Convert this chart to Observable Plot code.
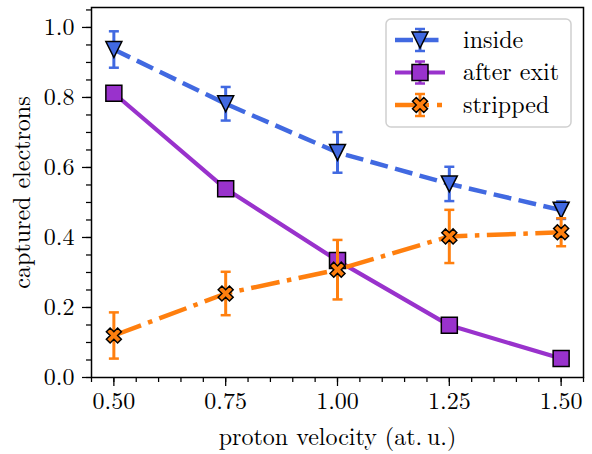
<!DOCTYPE html>
<html>
<head>
<meta charset="utf-8">
<script src="https://cdn.jsdelivr.net/npm/d3@7"></script>
<script src="https://cdn.jsdelivr.net/npm/@observablehq/plot@0.6"></script>
<style>
  html, body { margin: 0; padding: 0; background: white; }
  #chart { position: relative; width: 592px; height: 454px; }
</style>
</head>
<body>
<div id="chart"></div>
<script>
// ---- data ----
const velocity = [0.50, 0.75, 1.00, 1.25, 1.50];
const insideVals = [0.937, 0.782, 0.643, 0.553, 0.478];
const insideErr  = [0.052, 0.048, 0.058, 0.049, 0.025];
const afterVals  = [0.812, 0.539, 0.334, 0.149, 0.054];
const afterErr   = [0.005, 0.006, 0.008, 0.012, 0.005];
const strippedVals = [0.120, 0.240, 0.308, 0.403, 0.415];
const strippedErr  = [0.066, 0.062, 0.085, 0.076, 0.040];
const seriesNames = ["inside", "after exit", "stripped"];
const yTicks = [0.0, 0.2, 0.4, 0.6, 0.8, 1.0];
const xTicks = [0.50, 0.75, 1.00, 1.25, 1.50];

const FONT = "'Latin Modern Roman', 'Liberation Serif', serif";
const colors = {"inside": "#4169e1", "after exit": "#9932cc", "stripped": "#ff7f0e"};
const dashes = {"inside": "18,7.5", "after exit": null, "stripped": "29,7.5,4.5,7.5"};
const widths = {"inside": 4.5, "after exit": 4.2, "stripped": 4.5};

// custom marker symbols
const triDown = {draw(ctx, size) { const r = Math.sqrt(size / Math.PI);
  ctx.moveTo(0, r); ctx.lineTo(-r, -r); ctx.lineTo(r, -r); ctx.closePath(); }};
const square = {draw(ctx, size) { const r = Math.sqrt(size / Math.PI);
  ctx.rect(-r, -r, 2 * r, 2 * r); }};
const xFilled = {draw(ctx, size) { const r = Math.sqrt(size / Math.PI) / 2;
  const p = [[-1,-2],[0,-1],[1,-2],[2,-1],[1,0],[2,1],[1,2],[0,1],[-1,2],[-2,1],[-1,0],[-2,-1]];
  p.forEach(([a, b], i) => i ? ctx.lineTo(a * r, b * r) : ctx.moveTo(a * r, b * r)); ctx.closePath(); }};
const cap = {draw(ctx, size) { const r = Math.sqrt(size / Math.PI);
  ctx.moveTo(-r, 0); ctx.lineTo(r, 0); }};
const symbols = {"inside": triDown, "after exit": square, "stripped": xFilled};
const symR = {"inside": 8, "after exit": 8, "stripped": 7.5};

function rows(name, vals, errs) {
  return velocity.map((v, i) => ({series: name, v, y: vals[i], lo: vals[i] - errs[i], hi: vals[i] + errs[i]}));
}
const data = {
  "inside": rows("inside", insideVals, insideErr),
  "after exit": rows("after exit", afterVals, afterErr),
  "stripped": rows("stripped", strippedVals, strippedErr)
};

const marks = [];
for (const name of seriesNames) {
  const d = data[name], c = colors[name];
  marks.push(Plot.line(d, {x: "v", y: "y", stroke: c, strokeWidth: widths[name],
    strokeDasharray: dashes[name], strokeLinecap: "butt"}));
  marks.push(Plot.ruleX(d, {x: "v", y1: "lo", y2: "hi", stroke: c, strokeWidth: 3}));
  marks.push(Plot.dot(d, {x: "v", y: "lo", symbol: cap, r: 5, stroke: c, strokeWidth: 2.5}));
  marks.push(Plot.dot(d, {x: "v", y: "hi", symbol: cap, r: 5, stroke: c, strokeWidth: 2.5}));
  marks.push(Plot.dot(d, {x: "v", y: "y", symbol: symbols[name], r: symR[name], fill: c, stroke: "black", strokeWidth: 1.5}));
}

const chart = Plot.plot({
  width: 592, height: 454,
  marginLeft: 91, marginRight: 9, marginTop: 7, marginBottom: 77,
  style: {fontSize: "24px", fontFamily: FONT, color: "black", background: "white"},
  x: {domain: [0.45, 1.55]},
  y: {domain: [0, 1.057]},
  marks: [
    Plot.axisY({ticks: d3.range(0, 1.0501, 0.05), tickSize: 5, text: null, strokeWidth: 1.25, label: null}),
    Plot.axisY({ticks: yTicks, tickSize: 9, tickPadding: 8, tickFormat: d3.format(".1f"), fontSize: 24, strokeWidth: 1.25, label: null}),
    Plot.axisX({ticks: d3.range(0.45, 1.5501, 0.05), tickSize: 5, text: null, strokeWidth: 1.25, label: null}),
    Plot.axisX({ticks: xTicks, tickSize: 9, tickPadding: 5, tickFormat: d3.format(".2f"), fontSize: 24, strokeWidth: 1.25, label: null}),
    Plot.text(["captured electrons"], {frameAnchor: "left", dx: -69, rotate: -90, fontSize: 24, textAnchor: "middle", lineAnchor: "middle"}),
    Plot.text(["proton velocity (at.\u2009u.)"], {frameAnchor: "bottom", dy: 60, fontSize: 24, textAnchor: "middle", lineAnchor: "middle"}),
    ...marks,
    Plot.frame({stroke: "black", strokeWidth: 1.5})
  ]
});
document.getElementById("chart").appendChild(chart);

// ---- legend (drawn into the svg) ----
const svg = d3.select(chart);
const lg = svg.append("g").attr("font-size", 24).attr("text-anchor", "start");
lg.append("rect").attr("x", 386).attr("y", 19).attr("width", 185).attr("height", 108)
  .attr("rx", 5).attr("fill", "white").attr("fill-opacity", 0.8).attr("stroke", "#d0d0d0").attr("stroke-width", 1.5);
const legY = [40, 72.5, 105];
seriesNames.forEach((name, i) => {
  const y = legY[i], c = colors[name], cx = 420;
  lg.append("line").attr("x1", 395).attr("x2", 445).attr("y1", y).attr("y2", y)
    .attr("stroke", c).attr("stroke-width", widths[name])
    .attr("stroke-dasharray", name === "stripped" ? "34,8,5,8" : (dashes[name] || null));
  lg.append("line").attr("x1", cx).attr("x2", cx).attr("y1", y - 11).attr("y2", y + 11).attr("stroke", c).attr("stroke-width", 3);
  [y - 11, y + 11].forEach(yy => lg.append("line").attr("x1", cx - 5).attr("x2", cx + 5).attr("y1", yy).attr("y2", yy).attr("stroke", c).attr("stroke-width", 2.5));
  const path = d3.path();
  symbols[name].draw(path, Math.PI * symR[name] * symR[name]);
  lg.append("path").attr("d", path.toString()).attr("transform", `translate(${cx},${y})`)
    .attr("fill", c).attr("stroke", "black").attr("stroke-width", 1.5);
  lg.append("text").attr("x", 463).attr("y", y).attr("dy", "0.32em").attr("text-anchor", "start").text(name);
});

// force the serif font on every text element, and full size on tick labels
svg.attr("font-family", FONT);
svg.selectAll("text").style("font-family", FONT).style("font-size", "24px");
</script>
</body>
</html>
